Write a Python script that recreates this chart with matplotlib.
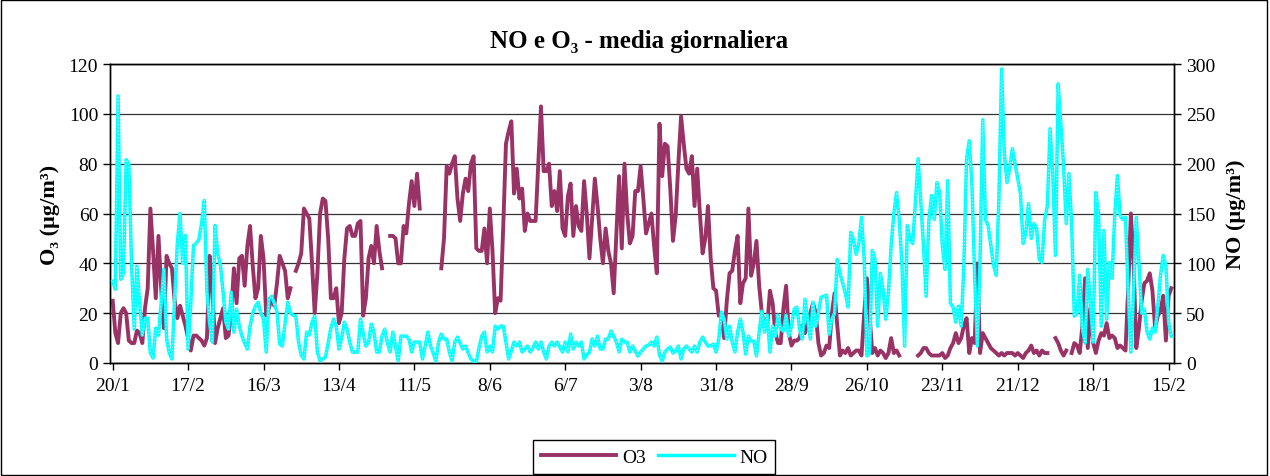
import numpy as np
import matplotlib
matplotlib.use("Agg")
import matplotlib.pyplot as plt
from matplotlib.patches import Rectangle

SERIF = ["Liberation Serif", "DejaVu Serif"]
plt.rcParams["font.family"] = SERIF

# tick labels on the date axis, one every 28 days (20/1/2004 -> 15/2/2005)
date_labels = ["20/1", "17/2", "16/3", "13/4", "11/5", "8/6", "6/7", "3/8",
               "31/8", "28/9", "26/10", "23/11", "21/12", "18/1", "15/2"]

# daily means, O3 in µg/m3 (None = missing day)
o3 = [25, 12, 8, 20, 22, 20, 9, 8, 8, 13, 12, 8, 22, 30, 62, 45, 26, 51, 30, 14,
      43, 40, 38, 25, 18, 23, 19, 15, 10, 5, 11, 11,
      10, 9, 7, 10, 43, 29, 8, 14, 18, 22, 10, 11, 20, 38, 24, 42, 43, 31, 47, 55,
      39, 26, 30, 51, 42, 19, 22, 26, 23, 32, 43, 40, 37, 26, 30,
      None,
      37, 40, 44, 62, 60, 58, 40, 20, 36, 60, 66, 65, 50, 26, 26, 30, 16, 20, 42, 54,
      55, 51, 51, 56, 57, 19, 26, 42, 47, 40, 55, 45, 38,
      None, None,
      51, 51, 50, 40, 40, 55, 52, 64, 73, 63, 76, 62,
      None, None, None, None, None, None, None,
      38, 50, 79, 76, 80, 83, 66, 57, 68, 74, 69, 80, 83,
      46, 45, 45, 54, 40, 62, 45, 20, 26, 25, 55, 88, 93, 97, 68, 78, 66, 70, 53, 60,
      57, 57, 57, 80, 103, 77, 77, 80, 63, 69, 61,
      77, 54, 51, 67, 72, 51, 63, 55, 53, 73, 60, 42, 58, 74, 63, 50, 40, 54, 45, 40,
      28, 52, 75, 46, 80, 60, 48, 51, 69, 69, 79, 66, 52,
      56, 60, 47, 36, 96, 75, 88, 87, 70, 49, 59, 80, 99, 88, 78, 76, 83, 63, 78, 60,
      44, 50, 63, 42, 30, 29, 19, 19, 10, 25, 36, 37, 45, 51,
      24, 32, 34, 62, 35, 40, 49, 31, 20, 14, 15, 29, 24, 12, 8, 8, 22, 31, 12, 7,
      9, 9, 10, 15, 12, 16, 20, 24, 20, 8, 3,
      4, 7, 6, 20, 28, 15, 3, 5, 4, 6, 3, 4, 5, 5, 3, 20, 34, 19, 4, 6,
      3, 5, 4, 2, 4, 10, 4, 5, 3,
      None, None, None, None, None, None,
      3, 4, 6, 6, 4, 3, 3, 3, 3, 4, 2, 3, 6, 8, 12, 8, 10, 15, 18, 4,
      10, 8, 40, 4, 12, 10, 8, 6, 5, 4, 3, 4, 3, 4, 4,
      4, 3, 4, 3, 2, 4, 5, 7, 4, 5, 3, 5, 4, 4,
      None, None,
      10, 8, 5, 3, 5,
      None,
      4, 8, 7, 4, 15, 34, 6, 22, 8,
      4, 9, 12, 11, 16, 10, 11, 10, 6, 7, 6, 5, 30, 60, 40, 6, 14, 25, 32, 33,
      36, 29, 14, 19, 21, 27, 9, 27, 30]

# daily means, NO in µg/m3
no = [82, 74, 268, 84, 90, 204, 200, 100, 34, 97, 60, 28, 45, 45, 10, 5, 35, 28, 60, 94,
      25, 10, 4, 64, 120, 150, 100, 128, 14, 60,
      118, 120, 124, 140, 163, 71, 40, 21, 138, 110, 98, 71, 41, 34, 71, 31, 54, 37, 27, 20,
      14, 37, 50, 57, 61, 50, 44, 11, 64, 67, 60, 51, 19, 17, 40, 61,
      50, 48, 47, 21, 8, 4, 31, 28, 41, 47, 11, 2, 4, 6, 20, 35, 44, 37, 14, 25,
      41, 34, 21, 11, 11, 11, 44, 30, 17, 21, 39, 31, 11,
      11, 27, 34, 20, 11, 31, 17, 2, 27, 27, 27, 24, 11, 21, 21, 21, 4, 17, 31, 17,
      10, 2, 21, 29, 24, 24, 11, 2, 21, 26, 20, 14,
      17, 10, 4, 2, 1, 15, 27, 31, 11, 17, 11, 37, 34, 37, 37, 21, 4, 12, 21, 17,
      21, 11, 14, 17, 11, 15, 21, 14, 21, 11, 4, 17, 21,
      17, 21, 16, 11, 21, 11, 29, 14, 21, 17, 21, 4, 8, 11, 24, 17, 27, 14, 14, 24,
      24, 32, 27, 21, 11, 24, 21, 21, 11, 17, 12, 7, 11, 14, 17,
      18, 21, 17, 26, 8, 2, 11, 14, 16, 10, 12, 17, 4, 14, 17, 14, 11, 17, 11, 21,
      26, 21, 17, 17, 19, 11, 24, 51, 44, 24, 37, 21, 11, 31,
      44, 31, 9, 27, 22, 22, 7, 31, 52, 31, 48, 11, 37, 27, 48, 34, 32, 48, 27, 37,
      54, 56, 34, 24, 64, 44, 24, 61, 37, 51, 66,
      67, 68, 29, 44, 50, 104, 90, 80, 70, 56, 131, 124, 109, 120, 146, 104, 7, 10, 113, 104,
      37, 90, 74, 44, 71, 118, 150, 171, 144, 100, 17, 138, 124, 120, 161, 205,
      161, 118, 67, 143, 168, 144, 181, 171, 118, 94, 183, 60, 56, 41, 57, 37, 98, 205, 223, 178,
      88, 17, 104, 244, 144, 138, 118, 98, 88, 165, 295, 211, 181, 195,
      215, 200, 185, 170, 120, 130, 160, 125, 140, 135, 104, 101, 144, 158, 235, 190, 108, 280, 240, 198,
      140, 190, 140, 47, 50, 88, 35, 20, 94,
      60, 21, 171, 150, 37, 133, 44, 101, 85, 148, 188, 148, 144, 146, 71, 11, 71, 146, 100, 50,
      54, 31, 24, 35, 31, 57, 88, 108, 98, 41, 27]

o3 = np.array(o3, dtype=float)
no = np.array(no, dtype=float)
day_o3 = np.arange(len(o3))
day_no = np.arange(len(no))
tick_days = np.arange(len(date_labels)) * 28

fig = plt.figure(figsize=(12.7, 4.77), dpi=100)
ax = fig.add_axes([0.0866, 0.2369, 0.8378, 0.6268])
ax2 = ax.twinx()

l1, = ax.plot(day_o3, o3, color="#993366", lw=2.8, label="O3", zorder=3)
l2, = ax2.plot(day_no, no, color="#00FFFF", lw=2.5, label="NO", zorder=3)
# light dotted texture on the NO line
ax2.plot(day_no, no, color="#99FFFF", lw=0.8, ls=(0, (1, 2)), zorder=4)

ax.set_xlim(-1, 394)
ax.set_ylim(0, 120)
ax.set_yticks(np.arange(0, 121, 20))
ax2.set_ylim(0, 300)
ax2.set_yticks(np.arange(0, 301, 50))
ax.set_xticks(tick_days)
ax.set_xticklabels(date_labels)
ax.yaxis.grid(True, color="#333333", lw=0.9)
ax.set_axisbelow(True)

for a in (ax, ax2):
    a.tick_params(direction="out", length=5, width=1, labelsize=14, colors="black")
    for s in a.spines.values():
        s.set_color("black")
        s.set_linewidth(1)
ax.tick_params(axis="x", pad=5)

ax.set_ylabel("O₃ (µg/m³)", fontsize=16, fontweight="bold", family=SERIF, labelpad=6)
ax2.set_ylabel("NO (µg/m³)", fontsize=16, fontweight="bold", family=SERIF, labelpad=8)
fig.text(0.503, 0.912, "NO e O₃ - media giornaliera", ha="center", va="center",
         fontsize=18, fontweight="bold", family=SERIF)

leg = fig.legend(handles=[l1, l2], loc="center", bbox_to_anchor=(0.515, 0.040), ncol=2,
                 fontsize=14, handlelength=3.9, handletextpad=0.3, frameon=True,
                 fancybox=False, edgecolor="black", framealpha=1, borderpad=0.4,
                 columnspacing=0.6)
leg.get_frame().set_linewidth(1)

fig.patches.append(Rectangle((0.001, 0.002), 0.997, 0.995, transform=fig.transFigure,
                             fill=False, edgecolor="black", lw=1))

fig.savefig("out.png", dpi=100)
